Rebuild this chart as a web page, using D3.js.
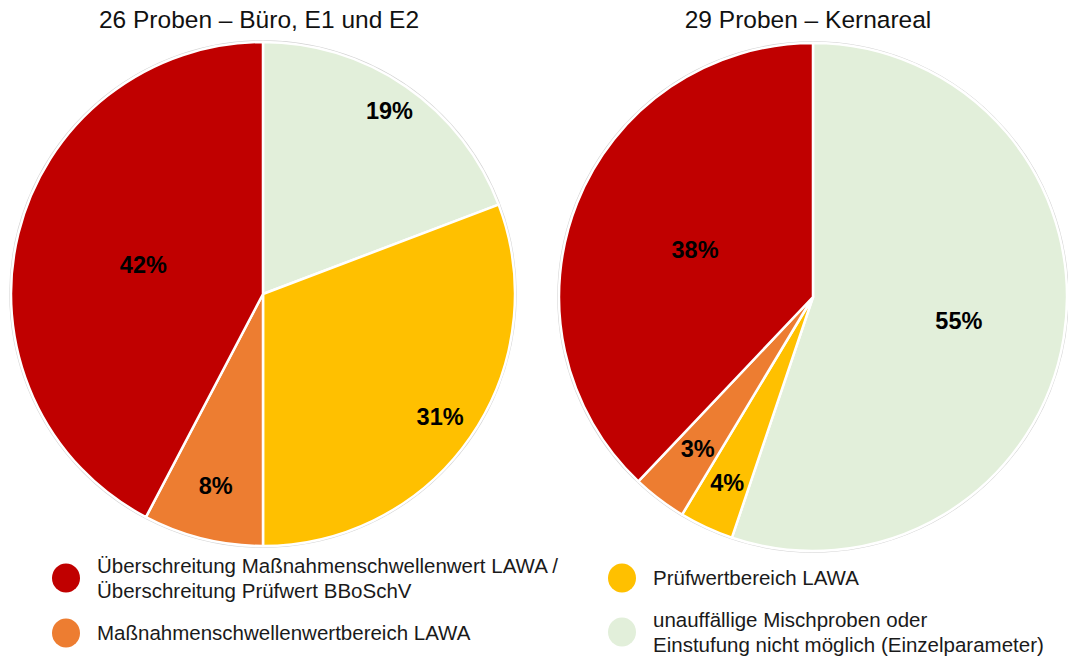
<!DOCTYPE html>
<html>
<head>
<meta charset="utf-8">
<script src="https://cdn.jsdelivr.net/npm/d3@7"></script>
<style>
  body { margin: 0; background: #fff; }
  svg { font-family: Arial, "Liberation Sans", sans-serif; }
</style>
</head>
<body>
<div class="plot"></div>
<script>
// categories (clockwise order from 12 o'clock)
const categories = [
    "unauffällige Mischproben oder Einstufung nicht möglich (Einzelparameter)",
    "Prüfwertbereich LAWA",
    "Maßnahmenschwellenwertbereich LAWA",
    "Überschreitung Maßnahmenschwellenwert LAWA / Überschreitung Prüfwert BBoSchV"
];
const colors = ["#E2EFDA", "#FFC000", "#ED7D31", "#C00000"];

// sample counts per category
const titles = ["26 Proben – Büro, E1 und E2", "29 Proben – Kernareal"];
const countsBuero = [5, 8, 2, 11];
const countsKern = [16, 1, 1, 11];
const labelsBuero = ["19%", "31%", "8%", "42%"];
const labelsKern = ["55%", "4%", "3%", "38%"];

// label distance from the centre as fraction of the radius (like Excel "best fit")
const labelRadBuero = [0.883, 0.854, 0.783, 0.489];
const labelRadKern = [0.582, 0.805, 0.75, 0.5];

const width = 1068, height = 661;

const svg = d3.select(".plot").append("svg")
    .attr("width", width)
    .attr("height", height);

const pies = [
    {title: titles[0], counts: countsBuero, labels: labelsBuero, lr: labelRadBuero, cx: 263, cy: 294, r: 252, tx: 259},
    {title: titles[1], counts: countsKern, labels: labelsKern, lr: labelRadKern, cx: 813, cy: 297, r: 254, tx: 808}
];

const pie = d3.pie().sort(null).value(d => d);

pies.forEach(function(p) {
    svg.append("text")
        .attr("x", p.tx)
        .attr("y", 28)
        .attr("text-anchor", "middle")
        .style("font-size", "24.5px")
        .attr("fill", "#111")
        .text(p.title);

    const g = svg.append("g")
        .attr("transform", "translate(" + p.cx + "," + p.cy + ")");

    // faint outer shadow ring
    g.append("circle")
        .attr("r", p.r + 1)
        .attr("fill", "none")
        .attr("stroke", "#d4d4d4")
        .attr("stroke-width", 1.5);

    const arc = d3.arc().innerRadius(0).outerRadius(p.r);
    const arcs = pie(p.counts);

    g.selectAll("path").data(arcs).enter()
        .append("path")
        .attr("d", arc)
        .attr("fill", (d, i) => colors[i])
        .attr("stroke", "#fff")
        .attr("stroke-width", 2.5)
        .attr("stroke-linejoin", "round");

    g.selectAll("text.lbl").data(arcs).enter()
        .append("text")
        .attr("class", "lbl")
        .attr("transform", function(d, i) {
            const a = (d.startAngle + d.endAngle) / 2;
            const rr = p.r * p.lr[i];
            return "translate(" + (Math.sin(a) * rr) + "," + (-Math.cos(a) * rr) + ")";
        })
        .attr("text-anchor", "middle")
        .attr("dy", "0.36em")
        .style("font-size", "23.5px")
        .style("font-weight", "bold")
        .attr("fill", "#000")
        .text((d, i) => p.labels[i]);
});

// legend
const legend = [
    {c: 3, x: 66, y: 578, lines: ["Überschreitung Maßnahmenschwellenwert LAWA /", "Überschreitung Prüfwert BBoSchV"]},
    {c: 2, x: 66, y: 633, lines: ["Maßnahmenschwellenwertbereich LAWA"]},
    {c: 1, x: 622, y: 578, lines: ["Prüfwertbereich LAWA"]},
    {c: 0, x: 622, y: 632, lines: ["unauffällige Mischproben oder", "Einstufung nicht möglich (Einzelparameter)"]}
];

const lg = svg.append("g").selectAll("g").data(legend).enter().append("g");

lg.append("ellipse")
    .attr("cx", d => d.x)
    .attr("cy", d => d.y)
    .attr("rx", 14)
    .attr("ry", 14.5)
    .attr("fill", d => colors[d.c]);

lg.each(function(d) {
    const n = d.lines.length;
    d3.select(this).selectAll("text").data(d.lines).enter()
        .append("text")
        .attr("x", d.x + 31)
        .attr("y", (t, i) => d.y + (i - (n - 1) / 2) * 25)
        .attr("dy", "0.35em")
        .style("font-size", "20.5px")
        .attr("fill", "#1a1a1a")
        .text(t => t);
});
</script>
</body>
</html>
